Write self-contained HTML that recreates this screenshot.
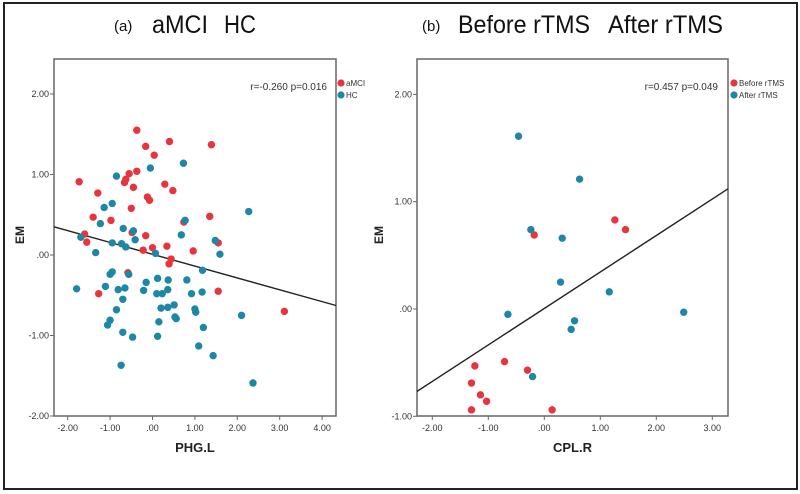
<!DOCTYPE html>
<html><head><meta charset="utf-8">
<style>
html,body{margin:0;padding:0;background:#fff;}
svg{display:block;font-family:"Liberation Sans",Arial,sans-serif;}
</style></head>
<body>
<svg id="chart" width="800" height="494" viewBox="0 0 800 494" xmlns="http://www.w3.org/2000/svg">
<rect x="4" y="3" width="793" height="486" fill="#fff" stroke="#222" stroke-width="2"/>
<text x="114" y="31" font-size="15" fill="#111">(a)</text>
<text x="152" y="33" font-size="25" fill="#111" textLength="56" lengthAdjust="spacingAndGlyphs">aMCI</text>
<text x="224" y="33" font-size="25" fill="#111" textLength="32" lengthAdjust="spacingAndGlyphs">HC</text>
<text x="422" y="31" font-size="15" fill="#111">(b)</text>
<text x="458" y="33" font-size="25" fill="#111" textLength="132" lengthAdjust="spacingAndGlyphs">Before rTMS</text>
<text x="608" y="33" font-size="25" fill="#111" textLength="115" lengthAdjust="spacingAndGlyphs">After rTMS</text>
<g id="pa"></g>
<g id="pb"></g>
</svg>
<script>
// Panel A data
const aRedX=[-0.37,-0.16,0.40,0.04,1.39,-1.73,-0.55,-0.37,-0.63,-0.66,-0.45,0.29,0.48,-1.29,-0.12,-0.07,-0.50,-1.40,-0.98,1.35,0.74,-0.16,-0.48,-1.60,-1.55,1.55,0.34,0.00,-0.22,0.96,0.44,0.39,-0.58,-1.27,1.55,3.11];
const aRedY=[1.55,1.35,1.41,1.24,1.37,0.91,1.01,1.04,0.94,0.90,0.84,0.88,0.80,0.77,0.72,0.68,0.58,0.47,0.43,0.48,0.41,0.24,0.28,0.26,0.16,0.15,0.11,0.09,0.06,0.05,-0.05,-0.11,-0.22,-0.48,-0.45,-0.70];
const aBlueX=[-0.85,-0.05,0.73,-0.95,-1.14,-1.23,-0.69,-0.45,0.77,2.27,0.68,-0.41,-1.69,1.48,-0.95,-0.73,-0.63,-1.34,0.07,1.59,1.18,-0.95,-1.00,-0.56,-0.15,-1.11,-1.79,-0.81,-0.65,-0.21,0.12,0.37,0.81,0.36,0.10,0.23,0.92,1.17,-0.70,0.51,0.36,0.20,-0.85,1.00,1.02,2.10,0.53,0.56,0.15,-1.00,-1.06,1.20,-0.70,-0.47,0.12,1.09,1.43,-0.74,2.37];
const aBlueY=[0.98,1.08,1.14,0.64,0.59,0.39,0.33,0.30,0.43,0.54,0.25,0.19,0.22,0.18,0.15,0.14,0.10,0.03,0.02,0.01,-0.19,-0.21,-0.24,-0.24,-0.34,-0.39,-0.42,-0.43,-0.41,-0.44,-0.29,-0.31,-0.31,-0.43,-0.48,-0.48,-0.48,-0.46,-0.55,-0.62,-0.65,-0.66,-0.68,-0.67,-0.71,-0.75,-0.77,-0.79,-0.83,-0.81,-0.87,-0.90,-0.96,-1.02,-1.01,-1.13,-1.25,-1.37,-1.59];
const aFit=[0.009,-0.147]; // intercept, slope
const aXTicks=[-2,-1,0,1,2,3,4];
const aXTickLabels=["-2.00","-1.00",".00","1.00","2.00","3.00","4.00"];
const aYTicks=[-2,-1,0,1,2];
const aYTickLabels=["-2.00","-1.00",".00","1.00","2.00"];
// Panel B data
const bRedX=[1.26,1.45,-0.18,-0.71,-1.24,-0.30,-1.30,-1.14,-1.03,-1.30,0.14];
const bRedY=[0.83,0.74,0.69,-0.49,-0.53,-0.57,-0.69,-0.80,-0.86,-0.94,-0.94];
const bBlueX=[-0.46,0.63,-0.24,0.32,0.29,1.16,2.49,-0.65,0.54,0.48,-0.21];
const bBlueY=[1.61,1.21,0.74,0.66,0.25,0.16,-0.03,-0.05,-0.11,-0.19,-0.63];
const bFit=[0.005,0.34];
const bXTicks=[-2,-1,0,1,2,3];
const bXTickLabels=["-2.00","-1.00",".00","1.00","2.00","3.00"];
const bYTicks=[-1,0,1,2];
const bYTickLabels=["-1.00",".00","1.00","2.00"];

const NS="http://www.w3.org/2000/svg";
const RED="#e8343d", BLUE="#1d87a8";
function mk(parent,tag,attrs){const e=document.createElementNS(NS,tag);for(const k in attrs)e.setAttribute(k,attrs[k]);parent.appendChild(e);return e;}

function panel(g,cfg){
  const sx=v=>cfg.x0px+(v-cfg.x0)*cfg.xs;
  const sy=v=>cfg.y0px-(v-cfg.y0)*cfg.ys;
  const box=mk(g,'rect',{x:cfg.L,y:cfg.T,width:cfg.R-cfg.L,height:cfg.B-cfg.T,fill:'none',stroke:'#666','stroke-width':1.5});
  
  
  cfg.xt.forEach((v,i)=>{
    const x=sx(v);
    const t=mk(g,'line',{x1:x,x2:x,y1:cfg.B,y2:cfg.B+4,stroke:'#666'});
    
    
    const l=mk(g,'text',{x:x,y:cfg.B+15,'font-size':9,'text-anchor':'middle',fill:'#333'});
    l.textContent=cfg.xl[i];
    
    
  });
  cfg.yt.forEach((v,i)=>{
    const y=sy(v);
    const t=mk(g,'line',{x1:cfg.L-4,x2:cfg.L,y1:y,y2:y,stroke:'#666'});
    
    
    const l=mk(g,'text',{x:cfg.L-5,y:y+3,'font-size':9,'text-anchor':'end',fill:'#333'});
    l.textContent=cfg.yl[i];
    
    
  });
  const xa=(cfg.L-cfg.x0px)/cfg.xs+cfg.x0, xb=(cfg.R-cfg.x0px)/cfg.xs+cfg.x0;
  const fl=mk(g,'line',{x1:sx(xa),y1:sy(cfg.fit[0]+cfg.fit[1]*xa),x2:sx(xb),y2:sy(cfg.fit[0]+cfg.fit[1]*xb),stroke:'#222','stroke-width':1.4});
  
  
  const draw=(X,Y,c,n)=>X.forEach((v,i)=>{
    const p=mk(g,'circle',{cx:sx(v),cy:sy(Y[i]),r:3.7,fill:c});
    
    
  });
  draw(cfg.rx,cfg.ry,RED,cfg.rn);
  draw(cfg.bx,cfg.by,BLUE,cfg.bn);
  const st=mk(g,'text',{x:cfg.statX,y:90,'font-size':10,'text-anchor':'end',fill:'#333'});
  st.textContent=cfg.stat;
  
  
  [[RED,cfg.leg[0],83],[BLUE,cfg.leg[1],95]].forEach(d=>{
    const c=mk(g,'circle',{cx:cfg.legX,cy:d[2],r:3.6,fill:d[0]});
    
    
    const t=mk(g,'text',{x:cfg.legX+5,y:d[2]+3,'font-size':8,fill:'#333'});
    t.textContent=d[1];
    
    
  });
  const xt=mk(g,'text',{x:(cfg.L+cfg.R)/2,y:452,'font-size':13,'font-weight':'bold','text-anchor':'middle',fill:'#222'});
  xt.textContent=cfg.xTitle;
  
  
  const yt=mk(g,'text',{x:0,y:0,'font-size':12,'font-weight':'bold','text-anchor':'middle',fill:'#222',transform:`translate(${cfg.yTitleX},235) rotate(-90)`});
  yt.textContent='EM';
  
  
}

panel(document.getElementById('pa'),{L:54,R:336,T:59,B:416,x0:0,x0px:152.5,xs:42.4,y0:0,y0px:255,ys:80.5,
  xt:aXTicks,xl:aXTickLabels,yt:aYTicks,yl:aYTickLabels,fit:aFit,rx:aRedX,ry:aRedY,bx:aBlueX,by:aBlueY,
  rn:'amci-point',bn:'hc-point',stat:'r=-0.260  p=0.016',statX:327,leg:['aMCI','HC'],legX:341,xTitle:'PHG.L',yTitleX:24});
panel(document.getElementById('pb'),{L:417,R:728,T:59,B:416,x0:0,x0px:544.3,xs:56,y0:0,y0px:309,ys:107.3,
  xt:bXTicks,xl:bXTickLabels,yt:bYTicks,yl:bYTickLabels,fit:bFit,rx:bRedX,ry:bRedY,bx:bBlueX,by:bBlueY,
  rn:'before-rtms-point',bn:'after-rtms-point',stat:'r=0.457  p=0.049',statX:718,leg:['Before rTMS','After rTMS'],legX:734,xTitle:'CPL.R',yTitleX:383});
</script>
</body></html>
